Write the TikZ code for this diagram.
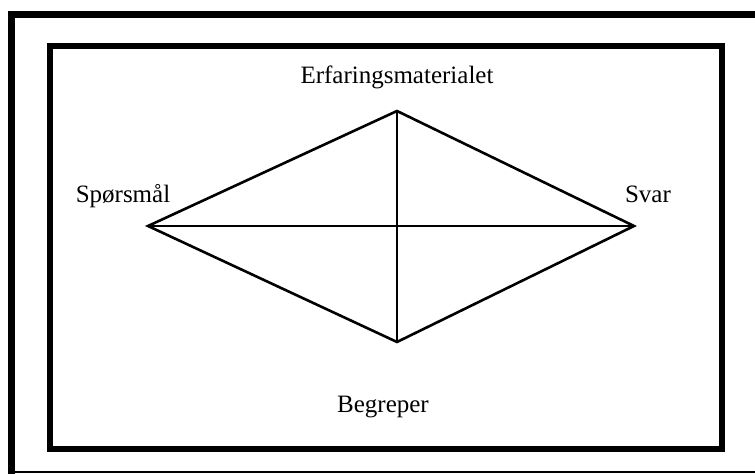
\documentclass[tikz,border=0pt]{standalone}
\usepackage{fontspec}
\setmainfont{Liberation Serif}
\usetikzlibrary{positioning}

\begin{document}
\begin{tikzpicture}[
      x=0.5pt, y=-0.5pt,
      font=\fontsize{12.5}{14}\selectfont,
      frame/.style={draw=black, line width=3pt},
      edge/.style={draw=black, line width=1.3pt, line join=miter},
      label/.style={inner sep=0pt, anchor=base}
    ]
    \useasboundingbox (0,0) rectangle (755,474);

    % outer frame (right side lies beyond the page)
    \draw[line width=3.5pt] (11,474) -- (11,15) -- (760,15);
    \draw[line width=1pt] (11,472) -- (760,472);

    % inner frame
    \draw[frame] (50,46) rectangle (722,449);

    % corners of the diamond
    \coordinate (top) at (397,111);
    \coordinate (bottom) at (397,342);
    \coordinate (left) at (148,226);
    \coordinate (right) at (634,226);

    \draw[edge] (left) -- (top) -- (right) -- (bottom) -- cycle;
    \draw[edge] (left) -- (right);
    \draw[edge] (top) -- (bottom);

    \node[label] (erfaring) at (397,84) {Erfaringsmaterialet};
    \node[label] (sporsmal) at (123,203) {Spørsmål};
    \node[label] (svar) at (648,203) {Svar};
    \node[label] (begreper) at (383,413) {Begreper};
  \end{tikzpicture}
\end{document}
